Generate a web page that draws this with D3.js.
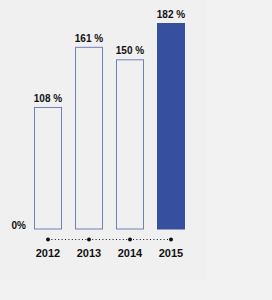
<!DOCTYPE html>
<html>
<head>
<meta charset="utf-8">
<script src="https://cdn.jsdelivr.net/npm/d3@7"></script>
<style>
  body { margin: 0; background: #f2f2f2; }
  svg { display: block; font-family: "Liberation Sans", Arial, sans-serif; }
</style>
</head>
<body>
<svg width="272" height="300"></svg>
<script>
const years = ['2012', '2013', '2014', '2015']
const values = [108, 161, 150, 182]
const labels = ['108 %', '161 %', '150 %', '182 %']

const svg = d3.select('svg')

svg.append('rect')
  .attr('width', 207)
  .attr('height', 281)
  .attr('fill', '#f0f0f0')

const x = d3.scaleBand()
  .domain(years)
  .range([27.5, 191.5])
  .paddingInner(13 / 41)
  .paddingOuter(6.5 / 41)

const y = d3.scaleLinear()
  .domain([0, 182])
  .range([229.5, 23])

const data = years.map((d, i) => ({ year: d, value: values[i], label: labels[i] }))

svg.append('g')
  .selectAll('rect')
  .data(data)
  .enter()
  .append('rect')
  .attr('x', d => x(d.year) + 0.5)
  .attr('y', d => y(d.value) + 0.5)
  .attr('width', x.bandwidth() - 1)
  .attr('height', d => y(0) - y(d.value) - 1)
  .attr('fill', (d, i) => i === 3 ? '#364f9e' : 'none')
  .attr('stroke', (d, i) => i === 3 ? '#364f9e' : '#7380b8')
  .attr('stroke-width', 1)

svg.append('g')
  .selectAll('text')
  .data(data)
  .enter()
  .append('text')
  .attr('x', d => x(d.year) + x.bandwidth() / 2)
  .attr('y', d => y(d.value) - 5)
  .attr('text-anchor', 'middle')
  .attr('font-size', 10)
  .attr('font-weight', 'bold')
  .attr('fill', '#111')
  .text(d => d.label)

svg.append('text')
  .attr('x', 26)
  .attr('y', y(0) - 0.5)
  .attr('text-anchor', 'end')
  .attr('font-size', 10)
  .attr('font-weight', 'bold')
  .attr('fill', '#111')
  .text('0%')

// dotted axis with dots at each year
const axisY = 239.5
const cx = d => x(d) + x.bandwidth() / 2

svg.append('line')
  .attr('x1', cx(years[0]))
  .attr('x2', cx(years[years.length - 1]))
  .attr('y1', axisY)
  .attr('y2', axisY)
  .attr('stroke', '#111')
  .attr('stroke-width', 1)
  .attr('stroke-dasharray', '1,2.4')

svg.append('g')
  .selectAll('circle')
  .data(years)
  .enter()
  .append('circle')
  .attr('cx', cx)
  .attr('cy', axisY)
  .attr('r', 2)
  .attr('fill', '#111')

svg.append('g')
  .selectAll('text')
  .data(years)
  .enter()
  .append('text')
  .attr('x', cx)
  .attr('y', 257)
  .attr('text-anchor', 'middle')
  .attr('font-size', 11)
  .attr('font-weight', 'bold')
  .attr('fill', '#111')
  .text(d => d)
</script>
</body>
</html>
